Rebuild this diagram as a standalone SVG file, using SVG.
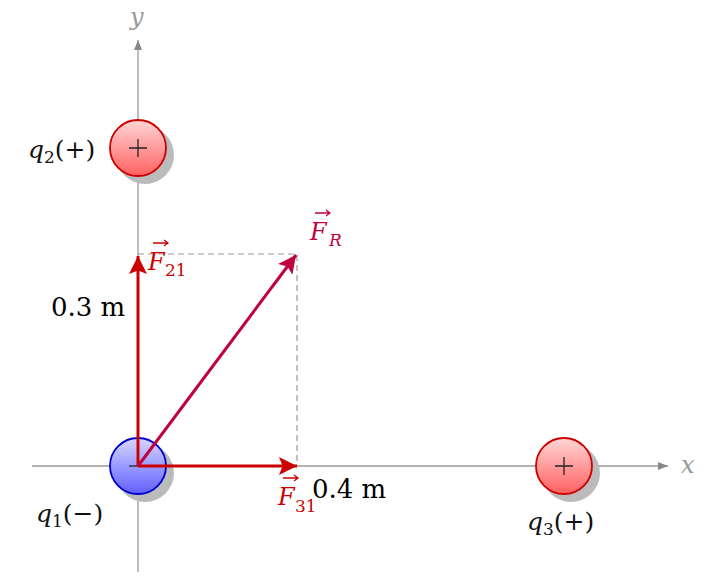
<svg xmlns="http://www.w3.org/2000/svg" width="718" height="587" viewBox="0 0 718 587">
<style>
.axis{stroke:#999;stroke-width:1.3;fill:none}
.dash{stroke:#999;stroke-width:1.2;stroke-dasharray:6,4;fill:none}
.math{font-family:"DejaVu Serif","Liberation Serif",serif;font-style:italic}
.rm{font-family:"DejaVu Serif","Liberation Serif",serif;font-style:normal}
.lbl{font-size:25px;fill:#111}
.dim{font-family:"DejaVu Serif","Liberation Serif",serif;font-size:26px;fill:#000}
.shadow{fill:#bbb}
.pos{fill:url(#gr);stroke:#cc0000;stroke-width:1.8}
.neg{fill:url(#gb);stroke:#0000cc;stroke-width:1.8}
.sign{stroke:#222;stroke-width:1.3}
</style>
<defs>
<linearGradient id="gr" x1="0" y1="0" x2="0" y2="1"><stop offset="0" stop-color="#ffd6d6"/><stop offset="1" stop-color="#ff6060"/></linearGradient>
<linearGradient id="gb" x1="0" y1="0" x2="0" y2="1"><stop offset="0" stop-color="#d6d6ff"/><stop offset="1" stop-color="#6060ff"/></linearGradient>
<marker id="ag" viewBox="0 0 10 10" refX="10" refY="5" markerWidth="10" markerHeight="10" markerUnits="userSpaceOnUse" orient="auto"><path d="M0,1 L10,5 L0,9 Z" fill="#888"/></marker>
<marker id="ar" viewBox="0 0 10 10" refX="10" refY="5" markerWidth="6" markerHeight="6" orient="auto"><path d="M0,0 L10,5 L0,10 L2,5 Z" fill="#cc0000"/></marker>
<marker id="ac" viewBox="0 0 10 10" refX="10" refY="5" markerWidth="6" markerHeight="6" orient="auto"><path d="M0,0 L10,5 L0,10 L2,5 Z" fill="#c0003c"/></marker>
</defs>
<g id="axes">
<line class="axis" x1="32" y1="466" x2="668" y2="466" marker-end="url(#ag)"/>
<line class="axis" x1="138" y1="572" x2="138" y2="40" marker-end="url(#ag)"/>
<text class="math" x="681" y="473" font-size="24" fill="#999">x</text>
<text class="math" x="130" y="25" font-size="24" fill="#999">y</text>
</g>
<g id="q2">
<circle class="shadow" cx="145" cy="155" r="29"/>
<circle class="pos" cx="138" cy="148" r="28"/>
<path class="sign" d="M129,148 H147 M138,139 V157"/>
<text class="lbl" x="28" y="158"><tspan class="math">q</tspan><tspan class="rm" font-size="17" dy="5">2</tspan><tspan class="rm" dy="-5">(+)</tspan></text>
</g>
<g id="q1">
<circle class="shadow" cx="145" cy="473" r="29"/>
<circle class="neg" cx="138" cy="466" r="28"/>
<path class="sign" d="M129,466 H138"/>
<text class="lbl" x="36" y="522"><tspan class="math">q</tspan><tspan class="rm" font-size="17" dy="5">1</tspan><tspan class="rm" dy="-5">(−)</tspan></text>
</g>
<g id="q3">
<circle class="shadow" cx="571" cy="473" r="29"/>
<circle class="pos" cx="564" cy="466" r="28"/>
<path class="sign" d="M555,466 H573 M564,457 V475"/>
<text class="lbl" x="527" y="530"><tspan class="math">q</tspan><tspan class="rm" font-size="17" dy="5">3</tspan><tspan class="rm" dy="-5">(+)</tspan></text>
</g>
<g id="connectors">
<path class="dash" d="M138,254 H297 V466"/>
<line x1="138" y1="466" x2="138" y2="256" stroke="#cc0000" stroke-width="3" marker-end="url(#ar)"/>
<line x1="138" y1="466" x2="297" y2="466" stroke="#cc0000" stroke-width="3" marker-end="url(#ar)"/>
<line x1="138" y1="466" x2="296" y2="255" stroke="#c0003c" stroke-width="3" marker-end="url(#ac)"/>
</g>
<g id="labels">
<text class="dim" x="51" y="316">0.3 m</text>
<text class="dim" x="312" y="498">0.4 m</text>
<g fill="#cc0000">
<text class="math" x="148" y="270" font-size="24">F</text>
<text class="rm" x="165" y="276" font-size="17">21</text>
<path d="M153,243 H167 M164,240 L168,243 L164,246" stroke="#cc0000" stroke-width="1.3" fill="none"/>
<text class="math" x="278" y="505" font-size="24">F</text>
<text class="rm" x="295" y="512" font-size="17">31</text>
<path d="M283,478 H297 M294,475 L298,478 L294,481" stroke="#cc0000" stroke-width="1.3" fill="none"/>
</g>
<g fill="#c0003c">
<text class="math" x="310" y="240" font-size="24">F</text>
<text class="math" x="329" y="246" font-size="17">R</text>
<path d="M315,213 H329 M326,210 L330,213 L326,216" stroke="#c0003c" stroke-width="1.3" fill="none"/>
</g>
</g>
</svg>
